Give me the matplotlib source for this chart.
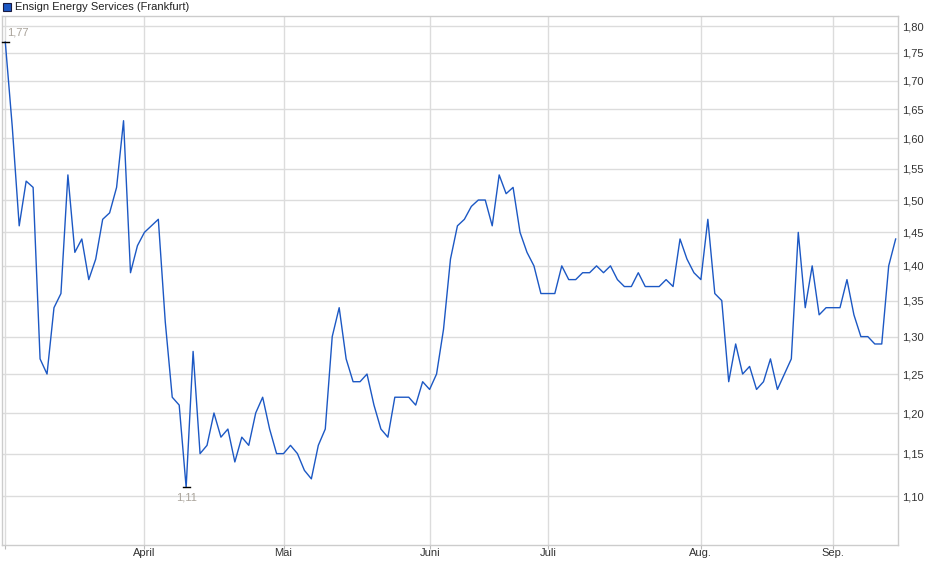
import matplotlib
matplotlib.use("Agg")
import matplotlib.pyplot as plt
from matplotlib.patches import Rectangle
from matplotlib.ticker import FixedLocator, FuncFormatter, NullLocator

plt.rcParams['font.family'] = ['Liberation Sans', 'DejaVu Sans']

# closing prices, one per trading day in the series (Frankfurt)
prices = [
    1.77, 1.62, 1.46, 1.53, 1.52, 1.27, 1.25, 1.34, 1.36, 1.54,
    1.42, 1.44, 1.38, 1.41, 1.47, 1.48, 1.52, 1.63, 1.39, 1.43,
    1.45, 1.46, 1.47, 1.32, 1.22, 1.21, 1.11, 1.28, 1.15, 1.16,
    1.20, 1.17, 1.18, 1.14, 1.17, 1.16, 1.20, 1.22, 1.18, 1.15,
    1.15, 1.16, 1.15, 1.13, 1.12, 1.16, 1.18, 1.30, 1.34, 1.27,
    1.24, 1.24, 1.25, 1.21, 1.18, 1.17, 1.22, 1.22, 1.22, 1.21,
    1.24, 1.23, 1.25, 1.31, 1.41, 1.46, 1.47, 1.49, 1.50, 1.50,
    1.46, 1.54, 1.51, 1.52, 1.45, 1.42, 1.40, 1.36, 1.36, 1.36,
    1.40, 1.38, 1.38, 1.39, 1.39, 1.40, 1.39, 1.40, 1.38, 1.37,
    1.37, 1.39, 1.37, 1.37, 1.37, 1.38, 1.37, 1.44, 1.41, 1.39,
    1.38, 1.47, 1.36, 1.35, 1.24, 1.29, 1.25, 1.26, 1.23, 1.24,
    1.27, 1.23, 1.25, 1.27, 1.45, 1.34, 1.40, 1.33, 1.34, 1.34,
    1.34, 1.38, 1.33, 1.30, 1.30, 1.29, 1.29, 1.40, 1.44,
]

# index of the first trading day of each month
month_pos = [0, 20, 40, 61, 78, 100, 119]
month_labels = ["", "April", "Mai", "Juni", "Juli", "Aug.", "Sep."]

y_ticks = [1.10, 1.15, 1.20, 1.25, 1.30, 1.35, 1.40, 1.45, 1.50,
           1.55, 1.60, 1.65, 1.70, 1.75, 1.80]

title = "Ensign Energy Services (Frankfurt)"

W, H = 940, 579
fig = plt.figure(figsize=(W / 100, H / 100), dpi=100)
left, right, top, bottom = 2.3, 898.3, 16, 545
ax = fig.add_axes([left / W, (H - bottom) / H, (right - left) / W, (bottom - top) / H])

line_color = "#1c58c4"
grid_color = "#dcdcdc"

x = list(range(len(prices)))
ax.plot(x, prices, color=line_color, lw=1.0, zorder=3)

ax.set_yscale("log")
ax.set_ylim(1.045, 1.819)
ax.set_xlim(-0.43, 128.38)

ax.yaxis.set_major_locator(FixedLocator(y_ticks))
ax.yaxis.set_minor_locator(NullLocator())
ax.yaxis.set_major_formatter(FuncFormatter(lambda v, p: f"{v:.2f}".replace(".", ",")))
ax.yaxis.tick_right()
ax.tick_params(axis="y", which="both", length=0, pad=3, labelsize=8, labelcolor="#333333")

ax.xaxis.set_major_locator(FixedLocator(month_pos))
ax.set_xticklabels(month_labels)
ax.tick_params(axis="x", length=3, width=0.8, color="#bbbbbb", pad=-0.5,
               labelsize=8, labelcolor="#333333")

ax.grid(True, color=grid_color, lw=1.0, zorder=0)
for s in ax.spines.values():
    s.set_color("#cccccc")
    s.set_linewidth(1.0)

# high / low markers
hi = max(prices)
lo = min(prices)
i_hi = prices.index(hi)
i_lo = prices.index(lo)
for i, v, dy, va in [(i_hi, hi, 3, "bottom"), (i_lo, lo, -4, "top")]:
    ax.plot([i - 0.5, i + 0.5], [v, v], color="black", lw=1.0, zorder=4, clip_on=False)
    ax.annotate(f"{v:.2f}".replace(".", ","), (i, v), xytext=(1 if i == 0 else 0, dy),
                textcoords="offset points", ha="left" if i == 0 else "center", va=va,
                fontsize=8, color="#a9a39a")

# legend box at top left
fig.patches.append(Rectangle((3 / W, 1 - 10.5 / H), 8 / W, 8 / H, transform=fig.transFigure,
                             facecolor=line_color, edgecolor="#1a1a40", lw=0.8))
fig.text(15 / W, 1 - 6.5 / H, title, ha="left", va="center", fontsize=8, color="#222222")

fig.savefig("out.png", dpi=100)
